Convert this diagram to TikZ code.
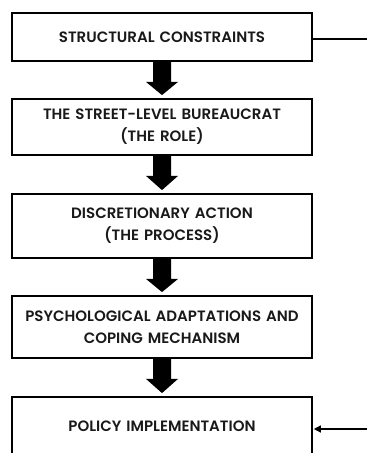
\documentclass[tikz,border=0pt]{standalone}
\usepackage{fontspec}
\setmainfont{Poppins}[BoldFont={Poppins SemiBold}]
\usetikzlibrary{calc,arrows.meta}
\tikzset{
  stage/.style={draw=black, line width=1.8pt, minimum width=300pt, text width=300pt,
    inner sep=0pt, align=center, font=\fontsize{15}{22}\selectfont\bfseries, text=black!90},
  bigarrow/.style={fill=black},
  link/.style={draw=black, line width=1.3pt},
}
\newcommand\flowarrow[2]{%
  \fill[bigarrow] ($(#1.south)+(-9,0)$) -- ($(#1.south)+(9,0)$) -- ($(#1.south)+(9,20)$)
    -- ($(#1.south)+(16,20)$) -- ($(#2.north)+(0,-3)$) -- ($(#1.south)+(-16,20)$)
    -- ($(#1.south)+(-9,20)$) -- cycle;}
\begin{document}
\begin{tikzpicture}[x=1pt,y=-1pt]
  \useasboundingbox (0,0) rectangle (367,453);
  \node[stage, minimum height=48pt] (b1) at (162,37) {STRUCTURAL CONSTRAINTS};
  \node[stage, minimum height=56pt] (b2) at (162,127) {THE STREET-LEVEL BUREAUCRAT\\(THE ROLE)};
  \node[stage, minimum height=64pt] (b3) at (162,226) {DISCRETIONARY ACTION\\(THE PROCESS)};
  \node[stage, minimum height=62pt] (b4) at (162,327) {PSYCHOLOGICAL ADAPTATIONS AND\\COPING MECHANISM};
  \node[stage, minimum height=58pt] (b5) at (162,426) {POLICY IMPLEMENTATION};
  \flowarrow{b1}{b2}
  \flowarrow{b2}{b3}
  \flowarrow{b3}{b4}
  \flowarrow{b4}{b5}
  \coordinate (r1) at (367,39);
  \coordinate (r2) at (367,429);
  \draw[link] (b1.east |- r1) -- (r1);
  \draw[link, -{Triangle[length=7pt,width=7pt]}, shorten >=0.9pt] (r2) -- (b5.east |- r2);
\end{tikzpicture}
\end{document}
